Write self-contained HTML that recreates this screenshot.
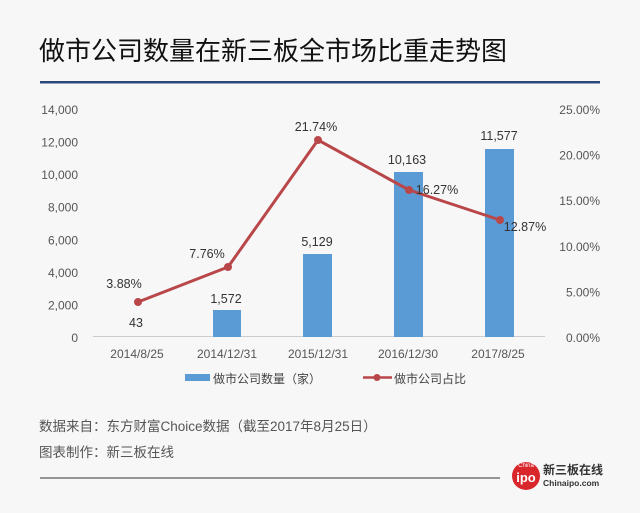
<!DOCTYPE html>
<html><head><meta charset="utf-8"><style>
body{margin:0;background:#f8f7f7;}
svg{display:block;font-family:"Liberation Sans","Noto Sans CJK SC",sans-serif;}
</style></head><body>
<svg width="640" height="513" viewBox="0 0 640 513">
<rect width="640" height="513" fill="#f8f7f7"/>
<text x="39" y="60" font-size="26" fill="#111">做市公司数量在新三板全市场比重走势图</text>
<rect x="40" y="81" width="560" height="2.5" fill="#2b4a7b"/>
<g font-size="12" fill="#555" text-anchor="end">
<text x="78" y="114">14,000</text><text x="78" y="146.6">12,000</text><text x="78" y="179.1">10,000</text>
<text x="78" y="211.7">8,000</text><text x="78" y="244.3">6,000</text><text x="78" y="276.9">4,000</text>
<text x="78" y="309.4">2,000</text><text x="78" y="342">0</text>
</g>
<g font-size="12" fill="#555" text-anchor="end">
<text x="600" y="114">25.00%</text><text x="600" y="159.6">20.00%</text><text x="600" y="205.2">15.00%</text>
<text x="600" y="250.8">10.00%</text><text x="600" y="296.4">5.00%</text><text x="600" y="342">0.00%</text>
</g>
<line x1="93" y1="336.5" x2="545" y2="336.5" stroke="#ccc" stroke-width="1"/>
<g fill="#5b9bd5">
<rect x="213" y="310" width="28" height="27"/>
<rect x="303" y="254" width="29" height="83"/>
<rect x="394" y="172" width="29" height="165"/>
<rect x="485" y="149" width="29" height="188"/>
</g>
<polyline points="138,302 228,267 318,140 409,190 500,220" fill="none" stroke="#b9474a" stroke-width="3" stroke-linejoin="round"/>
<g fill="#b9474a">
<circle cx="138" cy="302" r="4"/><circle cx="228" cy="267" r="4"/><circle cx="318" cy="140" r="4"/><circle cx="409" cy="190" r="4"/><circle cx="500" cy="220" r="4"/>
</g>
<g font-size="12.5" fill="#333" text-anchor="middle">
<text x="124" y="288">3.88%</text><text x="136" y="327">43</text>
<text x="207" y="258">7.76%</text><text x="226" y="303">1,572</text>
<text x="316" y="131">21.74%</text><text x="317" y="246">5,129</text>
<text x="407" y="164">10,163</text><text x="437" y="194">16.27%</text>
<text x="499" y="140">11,577</text><text x="525" y="231">12.87%</text>
</g>
<g font-size="12" fill="#555" text-anchor="middle">
<text x="137" y="358">2014/8/25</text><text x="227" y="358">2014/12/31</text><text x="318" y="358">2015/12/31</text>
<text x="408" y="358">2016/12/30</text><text x="498" y="358">2017/8/25</text>
</g>
<rect x="185" y="374" width="25" height="7" fill="#5b9bd5"/>
<text x="213" y="383" font-size="12" fill="#444">做市公司数量（家）</text>
<line x1="363" y1="377.5" x2="392" y2="377.5" stroke="#b9474a" stroke-width="2.5"/>
<circle cx="377" cy="377.5" r="3.5" fill="#b9474a"/>
<text x="394" y="383" font-size="12" fill="#444">做市公司占比</text>
<text x="39" y="431" font-size="13.5" fill="#555">数据来自：东方财富Choice数据（截至2017年8月25日）</text>
<text x="39" y="457" font-size="13.5" fill="#555">图表制作：新三板在线</text>
<line x1="40" y1="478" x2="500" y2="478" stroke="#333" stroke-width="1"/>
<circle cx="526" cy="476" r="14" fill="#d9262b"/>
<text x="526" y="482" font-size="13" font-weight="bold" fill="#fff" text-anchor="middle">ipo</text>
<text x="526" y="467" font-size="6" fill="#fff" text-anchor="middle">China</text>
<text x="543" y="474" font-size="12" font-weight="bold" fill="#333">新三板在线</text>
<text x="543" y="486" font-size="8.5" font-weight="bold" fill="#333">Chinaipo.com</text>
</svg>
</body></html>
